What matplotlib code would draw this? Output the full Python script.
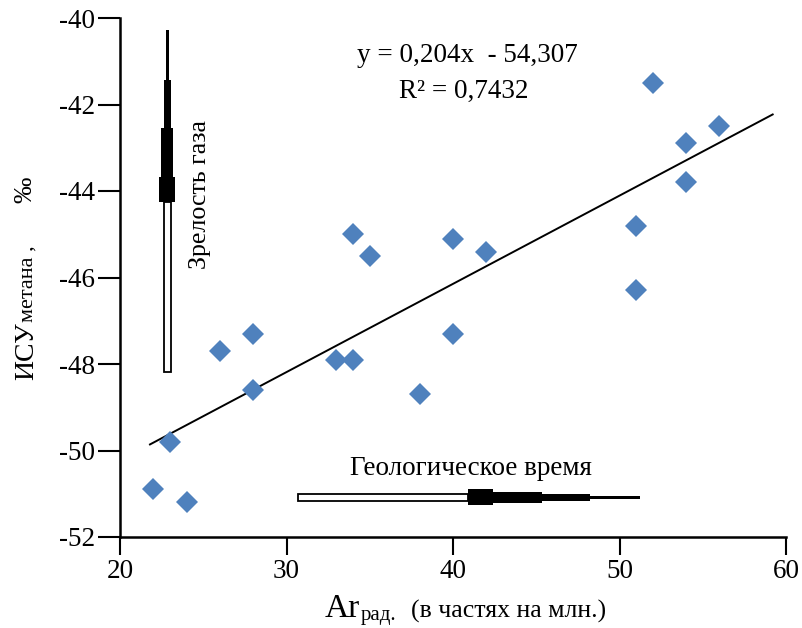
import matplotlib
matplotlib.use("Agg")
import matplotlib.pyplot as plt
import numpy as np
from matplotlib.patches import Rectangle

plt.rcParams["font.family"] = ["Liberation Serif", "DejaVu Serif"]
plt.rcParams["axes.unicode_minus"] = False

# measured points: Ar rad (ppm) vs methane isotope (permil)
ar_rad = [22, 23, 24, 26, 28, 28, 33, 34, 34, 35, 38, 40, 40, 42, 51, 51, 52, 54, 54, 56]
isu_methane = [-50.9, -49.8, -51.2, -47.7, -47.3, -48.6, -47.9, -47.9, -45.0, -45.5,
               -48.7, -45.1, -47.3, -45.4, -44.8, -46.3, -41.5, -42.9, -43.8, -42.5]

slope = 0.204
intercept = -54.307
fit_range = (21.8, 59.2)

x_ticks = [20, 30, 40, 50, 60]
y_ticks = [-52, -50, -48, -46, -44, -42, -40]

# "gas maturity" bar: (y_top, y_bottom, width) from top to bottom
maturity_x = 22.85
maturity_black = [(-40.28, -41.43, 0.18), (-41.43, -42.54, 0.42),
                  (-42.54, -43.68, 0.72), (-43.68, -44.25, 0.96)]
maturity_hollow = (-44.25, -48.18, 0.42)

# "geological time" bar: (x_left, x_right, height)
time_y = -51.08
time_hollow = (30.68, 40.89, 0.16)
time_black = [(40.89, 42.39, 0.37), (42.39, 45.33, 0.25),
              (45.33, 48.21, 0.16), (48.21, 51.21, 0.07)]

fig = plt.figure(figsize=(8.02, 6.28), dpi=100)
ax = fig.add_axes([120 / 802, 1 - 537 / 628, 666 / 802, 519 / 628])

ax.plot(ar_rad, isu_methane, linestyle="none", marker="D", markersize=11,
        color="#4F81BD", markeredgewidth=0, zorder=3)

xf = np.array(fit_range)
ax.plot(xf, slope * xf + intercept, color="black", linewidth=1.4, zorder=2)

for top, bottom, w in maturity_black:
    ax.add_patch(Rectangle((maturity_x - w / 2, bottom), w, top - bottom,
                           facecolor="black", edgecolor="none"))
top, bottom, w = maturity_hollow
ax.add_patch(Rectangle((maturity_x - w / 2, bottom), w, top - bottom,
                       facecolor="white", edgecolor="black", linewidth=1.3))

left, right, h = time_hollow
ax.add_patch(Rectangle((left, time_y - h / 2), right - left, h,
                       facecolor="white", edgecolor="black", linewidth=1.3))
for left, right, h in time_black:
    ax.add_patch(Rectangle((left, time_y - h / 2), right - left, h,
                           facecolor="black", edgecolor="none"))

ax.text(40.84, -41.02, "y = 0,204x  - 54,307", ha="center", va="baseline", fontsize=19.5)
ax.text(40.66, -41.85, "R² = 0,7432", ha="center", va="baseline", fontsize=19.5)
ax.text(41.08, -50.57, "Геологическое время", ha="center", va="baseline", fontsize=19.5)
ax.text(24.8, -44.09, "Зрелость газа", ha="center", va="center", rotation=90, fontsize=18.7)

ax.set_xlim(20, 60)
ax.set_ylim(-52, -40)
ax.set_xticks(x_ticks)
ax.set_yticks(y_ticks)
ax.tick_params(axis="both", labelsize=19.5, width=1.5, direction="out")
ax.tick_params(axis="y", length=16, pad=2)
ax.tick_params(axis="x", length=13, pad=3)
for side in ["top", "right"]:
    ax.spines[side].set_visible(False)
for side in ["left", "bottom"]:
    ax.spines[side].set_linewidth(1.8)


def px(x, y):
    return x / 802, 1 - y / 628


# x axis label pieces
fig.text(*px(325, 617), "Ar", fontsize=24, va="baseline", ha="left")
fig.text(*px(361, 620), "рад.", fontsize=15, va="baseline", ha="left")
fig.text(*px(411, 618), "(в частях на млн.)", fontsize=18.5, va="baseline", ha="left")

# y axis label pieces
fig.text(*px(33, 380), "ИСУ", fontsize=20, rotation=90, rotation_mode="anchor",
         va="baseline", ha="left")
fig.text(*px(33, 322), "метана ,", fontsize=16, rotation=90, rotation_mode="anchor",
         va="baseline", ha="left")
fig.text(*px(31, 203), "‰", fontsize=19, rotation=90, rotation_mode="anchor",
         va="baseline", ha="left")

fig.savefig("out.png", dpi=100)
